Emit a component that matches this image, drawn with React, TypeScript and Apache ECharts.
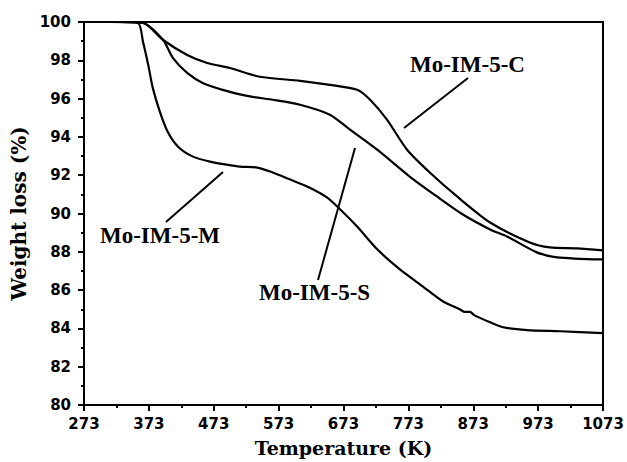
import React, { useEffect, useRef } from "react";
import * as echarts from "echarts";

// Temperature (K) / weight (%)
const tempC = [328, 364, 395, 432, 463, 498, 544, 606, 652, 694, 714, 740, 771, 806, 848, 899, 960, 991, 1033, 1073];
const weightC = [100, 99.95, 99.06, 98.28, 97.86, 97.6, 97.14, 96.93, 96.72, 96.46, 95.94, 94.9, 93.33, 92.14, 90.89, 89.53, 88.49, 88.23, 88.18, 88.07];

const tempS = [328, 364, 395, 410, 432, 456, 498, 533, 564, 606, 652, 683, 725, 775, 817, 857, 899, 925, 971, 1002, 1073];
const weightS = [100, 99.95, 99.06, 98.13, 97.34, 96.82, 96.35, 96.09, 95.94, 95.68, 95.16, 94.38, 93.33, 91.93, 90.89, 89.95, 89.17, 88.8, 87.97, 87.71, 87.6];

const tempM = [313, 356, 364, 372, 379, 390, 402, 418, 441, 467, 493, 513, 540, 560, 591, 621, 648, 668, 694, 725, 760, 795, 826, 852, 860, 868, 875, 899, 919, 956, 1007, 1073];
const weightM = [100, 99.95, 98.96, 97.76, 96.56, 95.31, 94.27, 93.49, 92.97, 92.71, 92.55, 92.45, 92.4, 92.19, 91.77, 91.35, 90.83, 90.21, 89.32, 88.13, 87.08, 86.2, 85.42, 85.0, 84.86, 84.86, 84.68, 84.32, 84.06, 83.91, 83.85, 83.75];

const seriesNames = ["Mo-IM-5-C", "Mo-IM-5-S", "Mo-IM-5-M"];
const T0 = 273; // axis starts at 273 K
const xTickStep = 100;
const yMin = 80;
const yMax = 100;
const yStep = 2;

const pairs = (t: number[], w: number[]) => t.map((v, i) => [v - T0, w[i]]);

export default function App() {
  const ref = useRef<HTMLDivElement>(null);
  useEffect(() => {
    if (!ref.current) return;
    const chart = echarts.init(ref.current, undefined, { renderer: "svg" });
    const lineStyle = { color: "#000", width: 2.2, join: "round", cap: "round" };
    const mk = (name: string, t: number[], w: number[]) => ({
      name,
      type: "line",
      data: pairs(t, w),
      showSymbol: false,
      smooth: 0.25,
      lineStyle,
      itemStyle: { color: "#000" },
      z: 3,
    });
    const annFont = {
      fontFamily: "Liberation Serif",
      fontWeight: "bold",
      fontSize: 23,
      fill: "#000",
    };
    const leader = { stroke: "#000", lineWidth: 2 };
    chart.setOption({
      animation: false,
      backgroundColor: "#fff",
      grid: {
        left: 84,
        right: 24,
        top: 22,
        bottom: 56,
        show: true,
        borderColor: "#000",
        borderWidth: 2,
        backgroundColor: "transparent",
      },
      xAxis: {
        type: "value",
        min: 0,
        max: 1073 - T0,
        interval: xTickStep,
        name: "Temperature (K)",
        nameLocation: "middle",
        nameGap: 33,
        nameTextStyle: { fontFamily: "DejaVu Serif", fontWeight: "bold", fontSize: 19, color: "#000" },
        axisLine: { lineStyle: { color: "#000", width: 2 } },
        axisTick: { inside: false, length: 6, lineStyle: { color: "#000", width: 2 } },
        minorTick: { show: true, splitNumber: 2, length: 3, lineStyle: { color: "#000", width: 2 } },
        axisLabel: {
          margin: 11,
          fontFamily: "DejaVu Sans",
          fontWeight: "bold",
          fontSize: 15,
          color: "#000",
          formatter: (v: number) => String(v + T0),
        },
        splitLine: { show: false },
      },
      yAxis: {
        type: "value",
        min: yMin,
        max: yMax,
        interval: yStep,
        name: "Weight loss (%)",
        nameLocation: "middle",
        nameGap: 50,
        nameTextStyle: { fontFamily: "DejaVu Serif", fontWeight: "bold", fontSize: 20, color: "#000" },
        axisLine: { lineStyle: { color: "#000", width: 2 } },
        axisTick: { inside: false, length: 6, lineStyle: { color: "#000", width: 2 } },
        minorTick: { show: true, splitNumber: 2, length: 3, lineStyle: { color: "#000", width: 2 } },
        axisLabel: {
          margin: 13,
          fontFamily: "DejaVu Sans",
          fontWeight: "bold",
          fontSize: 15,
          color: "#000",
        },
        splitLine: { show: false },
      },
      series: [mk(seriesNames[0], tempC, weightC), mk(seriesNames[1], tempS, weightS), mk(seriesNames[2], tempM, weightM)],
      graphic: [
        { type: "text", left: 410, top: 53, style: { text: seriesNames[0], ...annFont } },
        { type: "line", shape: { x1: 468, y1: 78, x2: 404, y2: 128 }, style: leader },
        { type: "text", left: 259, top: 281, style: { text: seriesNames[1], ...annFont } },
        { type: "line", shape: { x1: 318, y1: 280, x2: 355, y2: 148 }, style: leader },
        { type: "text", left: 100, top: 224, style: { text: seriesNames[2], ...annFont } },
        { type: "line", shape: { x1: 166, y1: 222, x2: 223, y2: 172 }, style: leader },
      ],
    });
    return () => chart.dispose();
  }, []);
  return <div ref={ref} style={{ position: "absolute", left: 0, top: 0, width: 627, height: 462 }} />;
}
